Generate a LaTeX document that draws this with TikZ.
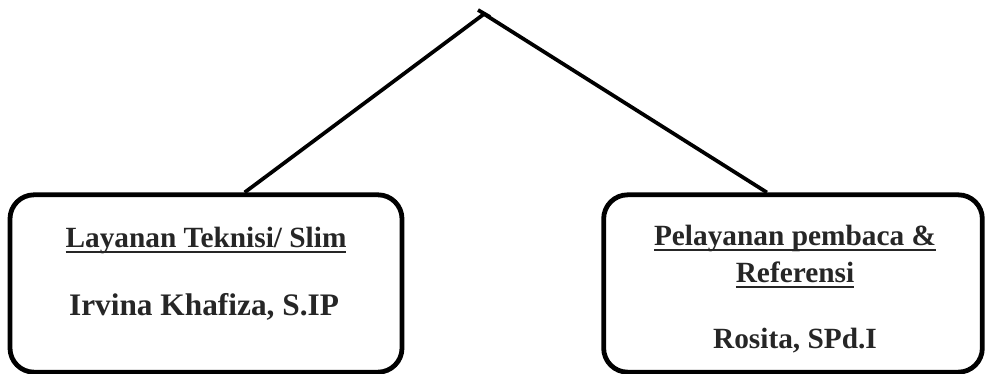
\documentclass[tikz,border=0pt]{standalone}
\usepackage{fontspec}
\setmainfont{Liberation Serif}
\usetikzlibrary{positioning}
\newsavebox{\ulinebox}
\newcommand{\undertext}[1]{\sbox{\ulinebox}{#1}\rlap{\rule[-4.6pt]{\wd\ulinebox}{1.5pt}}\usebox{\ulinebox}}

\begin{document}
\begin{tikzpicture}
		[x=0.75pt, y=-0.75pt,
		unitbox/.style={draw=black, line width=3.6pt, rounded corners=18pt, minimum width=294pt, minimum height=133pt},
		unittext/.style={anchor=base, font=\fontsize{22}{26}\selectfont\bfseries, text=black!85},
		link/.style={line width=2.8pt}]
		\useasboundingbox (0,0) rectangle (985,374);
		\node[unitbox] (lbox) at (206,283.5) {};
		\node[unitbox, minimum width=284pt] (rbox) at (793,283.5) {};
		\coordinate (top) at (484,14);

		\node[unittext] (lunit) at (206,247) {\undertext{Layanan Teknisi/ Slim}};
		\node[unittext, font=\fontsize{23.5}{28}\selectfont\bfseries] (lname) at (204,315) {Irvina Khafiza, S.IP};
		\node[unittext] (runit) at (795,245) {\undertext{Pelayanan pembaca \&}};
		\node[unittext] (runit2) at (795,282) {\undertext{Referensi}};
		\node[unittext] (rname) at (795,348) {Rosita, SPd.I};

		\draw[link] (top) -- (lbox.67);
		\draw[link] (top) -- (rbox.106);
		\draw[link] ([shift={(-6,-4)}]top) -- ([shift={(6,3)}]top);
	\end{tikzpicture}
\end{document}
